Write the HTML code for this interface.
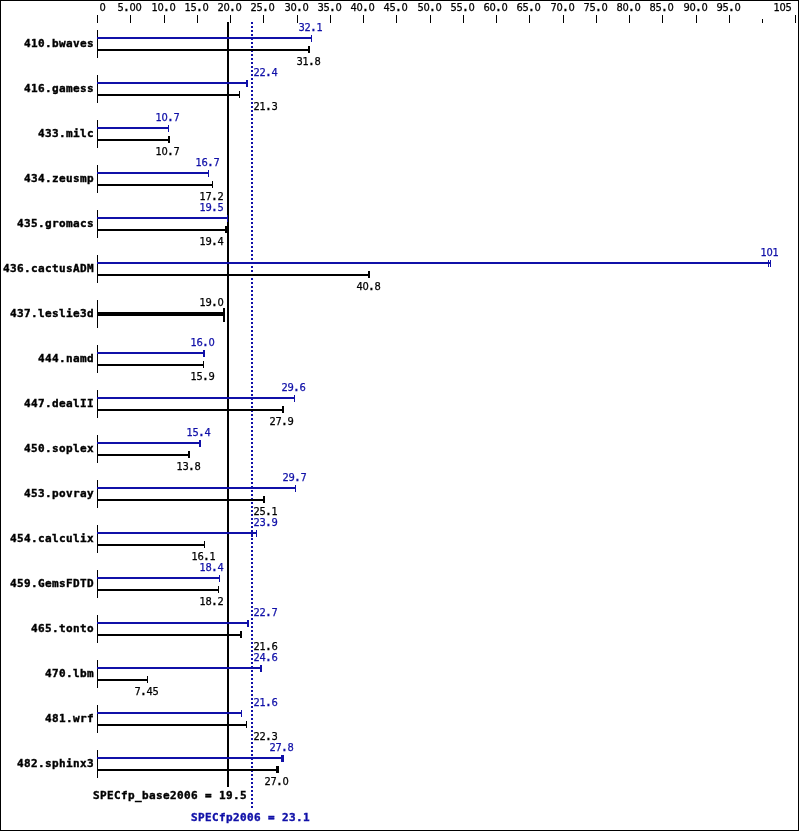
<!DOCTYPE html>
<html lang="en">
<head>
<meta charset="utf-8">
<title>SPECfp2006 results chart</title>
<style>
html,body{margin:0;padding:0;background:#fff}
#chart{position:relative;width:797px;height:829px;border:1px solid #000;background:#fff;overflow:hidden}
#plot{position:absolute;left:-1px;top:-1px;width:799px;height:831px}
#plot i{position:absolute;display:block}
#plot i.k{background:#000}
#plot i.b{background:#1010a8}
#plot i.dot{background:repeating-linear-gradient(to bottom,#1010a8 0,#1010a8 2px,transparent 2px,transparent 4px)}
#plot span{position:absolute;white-space:pre;color:#000;height:0;line-height:0}
#plot span.s{font-family:"DejaVu Sans Condensed","DejaVu Sans","Liberation Sans",sans-serif;font-stretch:condensed;font-size:11px;letter-spacing:-0.3px;margin-top:-3px;-webkit-text-stroke:0.25px currentColor}
#plot span.s u{display:inline-block;width:6px;text-align:center;text-decoration:none;letter-spacing:0;line-height:0;font-weight:bold}
#plot span.n{font-family:"DejaVu Sans Mono","Liberation Mono",monospace;font-weight:bold;font-size:11px;letter-spacing:0.378px;margin-top:-3px;-webkit-text-stroke:0.4px currentColor}
#plot span.bl{color:#1010a8}
</style>
</head>
<body>
<div id="chart"><div id="plot">
<i class="k" style="left:97px;top:15px;width:1px;height:8px"></i>
<span class="s" style="left:99.5px;top:11px">0</span>
<i class="k" style="left:130px;top:15px;width:1px;height:8px"></i>
<span class="s" style="left:117.5px;top:11px">5<u>.</u>00</span>
<i class="k" style="left:164px;top:15px;width:1px;height:8px"></i>
<span class="s" style="left:151.5px;top:11px">10<u>.</u>0</span>
<i class="k" style="left:197px;top:15px;width:1px;height:8px"></i>
<span class="s" style="left:184.5px;top:11px">15<u>.</u>0</span>
<i class="k" style="left:230px;top:15px;width:1px;height:8px"></i>
<span class="s" style="left:217.5px;top:11px">20<u>.</u>0</span>
<i class="k" style="left:263px;top:15px;width:1px;height:8px"></i>
<span class="s" style="left:250.5px;top:11px">25<u>.</u>0</span>
<i class="k" style="left:297px;top:15px;width:1px;height:8px"></i>
<span class="s" style="left:284.5px;top:11px">30<u>.</u>0</span>
<i class="k" style="left:330px;top:15px;width:1px;height:8px"></i>
<span class="s" style="left:317.5px;top:11px">35<u>.</u>0</span>
<i class="k" style="left:363px;top:15px;width:1px;height:8px"></i>
<span class="s" style="left:350.5px;top:11px">40<u>.</u>0</span>
<i class="k" style="left:396px;top:15px;width:1px;height:8px"></i>
<span class="s" style="left:383.5px;top:11px">45<u>.</u>0</span>
<i class="k" style="left:430px;top:15px;width:1px;height:8px"></i>
<span class="s" style="left:417.5px;top:11px">50<u>.</u>0</span>
<i class="k" style="left:463px;top:15px;width:1px;height:8px"></i>
<span class="s" style="left:450.5px;top:11px">55<u>.</u>0</span>
<i class="k" style="left:496px;top:15px;width:1px;height:8px"></i>
<span class="s" style="left:483.5px;top:11px">60<u>.</u>0</span>
<i class="k" style="left:529px;top:15px;width:1px;height:8px"></i>
<span class="s" style="left:516.5px;top:11px">65<u>.</u>0</span>
<i class="k" style="left:563px;top:15px;width:1px;height:8px"></i>
<span class="s" style="left:550.5px;top:11px">70<u>.</u>0</span>
<i class="k" style="left:596px;top:15px;width:1px;height:8px"></i>
<span class="s" style="left:583.5px;top:11px">75<u>.</u>0</span>
<i class="k" style="left:629px;top:15px;width:1px;height:8px"></i>
<span class="s" style="left:616.5px;top:11px">80<u>.</u>0</span>
<i class="k" style="left:662px;top:15px;width:1px;height:8px"></i>
<span class="s" style="left:649.5px;top:11px">85<u>.</u>0</span>
<i class="k" style="left:696px;top:15px;width:1px;height:8px"></i>
<span class="s" style="left:683.5px;top:11px">90<u>.</u>0</span>
<i class="k" style="left:729px;top:15px;width:1px;height:8px"></i>
<span class="s" style="left:716.5px;top:11px">95<u>.</u>0</span>
<i class="k" style="left:762px;top:19px;width:1px;height:4px"></i>
<i class="k" style="left:795px;top:15px;width:1px;height:8px"></i>
<span class="s" style="left:773.5px;top:11px">105</span>
<i class="k" style="left:227px;top:22px;width:2px;height:765px"></i>
<i class="dot" style="left:251px;top:22px;width:2px;height:786px"></i>
<i class="k" style="left:97px;top:30px;width:1px;height:28px"></i>
<span class="n" style="left:24px;top:47px">410.bwaves</span>
<i class="b" style="left:97px;top:37px;width:215px;height:2px"></i>
<i class="b" style="left:311px;top:35px;width:1px;height:7px"></i>
<span class="s bl" style="left:298.5px;top:31px">32<u>.</u>1</span>
<i class="k" style="left:97px;top:49px;width:213px;height:2px"></i>
<i class="k" style="left:308px;top:46px;width:2px;height:7px"></i>
<span class="s" style="left:296.5px;top:65px">31<u>.</u>8</span>
<i class="k" style="left:97px;top:75px;width:1px;height:28px"></i>
<span class="n" style="left:24px;top:92px">416.gamess</span>
<i class="b" style="left:97px;top:82px;width:151px;height:2px"></i>
<i class="b" style="left:246px;top:80px;width:2px;height:7px"></i>
<span class="s bl" style="left:253.5px;top:76px">22<u>.</u>4</span>
<i class="k" style="left:97px;top:94px;width:143px;height:2px"></i>
<i class="k" style="left:239px;top:91px;width:1px;height:7px"></i>
<span class="s" style="left:253.5px;top:110px">21<u>.</u>3</span>
<i class="k" style="left:97px;top:120px;width:1px;height:28px"></i>
<span class="n" style="left:38px;top:137px">433.milc</span>
<i class="b" style="left:97px;top:127px;width:72px;height:2px"></i>
<i class="b" style="left:168px;top:125px;width:1px;height:7px"></i>
<span class="s bl" style="left:155.5px;top:121px">10<u>.</u>7</span>
<i class="k" style="left:97px;top:139px;width:73px;height:2px"></i>
<i class="k" style="left:168px;top:136px;width:2px;height:7px"></i>
<span class="s" style="left:155.5px;top:155px">10<u>.</u>7</span>
<i class="k" style="left:97px;top:165px;width:1px;height:28px"></i>
<span class="n" style="left:24px;top:182px">434.zeusmp</span>
<i class="b" style="left:97px;top:172px;width:112px;height:2px"></i>
<i class="b" style="left:208px;top:170px;width:1px;height:7px"></i>
<span class="s bl" style="left:195.5px;top:166px">16<u>.</u>7</span>
<i class="k" style="left:97px;top:184px;width:116px;height:2px"></i>
<i class="k" style="left:212px;top:181px;width:1px;height:7px"></i>
<span class="s" style="left:199.5px;top:200px">17<u>.</u>2</span>
<i class="k" style="left:97px;top:210px;width:1px;height:28px"></i>
<span class="n" style="left:17px;top:227px">435.gromacs</span>
<i class="b" style="left:97px;top:217px;width:131px;height:2px"></i>
<i class="b" style="left:227px;top:215px;width:1px;height:7px"></i>
<span class="s bl" style="left:199.5px;top:211px">19<u>.</u>5</span>
<i class="k" style="left:97px;top:229px;width:130px;height:2px"></i>
<i class="k" style="left:225px;top:226px;width:2px;height:7px"></i>
<span class="s" style="left:199.5px;top:245px">19<u>.</u>4</span>
<i class="k" style="left:97px;top:255px;width:1px;height:28px"></i>
<span class="n" style="left:3px;top:272px">436.cactusADM</span>
<i class="b" style="left:97px;top:262px;width:674px;height:2px"></i>
<i class="b" style="left:770px;top:260px;width:1px;height:7px"></i>
<span class="s bl" style="left:760.5px;top:256px">101</span>
<i class="k" style="left:97px;top:274px;width:273px;height:2px"></i>
<i class="k" style="left:368px;top:271px;width:2px;height:7px"></i>
<span class="s" style="left:356.5px;top:290px">40<u>.</u>8</span>
<i class="b" style="left:768px;top:260px;width:1px;height:7px"></i>
<i class="k" style="left:97px;top:300px;width:1px;height:28px"></i>
<span class="n" style="left:10px;top:317px">437.leslie3d</span>
<i class="k" style="left:97px;top:312px;width:128px;height:4px"></i>
<i class="k" style="left:223px;top:308px;width:2px;height:14px"></i>
<span class="s" style="left:199.5px;top:306px">19<u>.</u>0</span>
<i class="k" style="left:97px;top:345px;width:1px;height:28px"></i>
<span class="n" style="left:38px;top:362px">444.namd</span>
<i class="b" style="left:97px;top:352px;width:108px;height:2px"></i>
<i class="b" style="left:203px;top:350px;width:2px;height:7px"></i>
<span class="s bl" style="left:190.5px;top:346px">16<u>.</u>0</span>
<i class="k" style="left:97px;top:364px;width:107px;height:2px"></i>
<i class="k" style="left:203px;top:361px;width:1px;height:7px"></i>
<span class="s" style="left:190.5px;top:380px">15<u>.</u>9</span>
<i class="k" style="left:97px;top:390px;width:1px;height:28px"></i>
<span class="n" style="left:24px;top:407px">447.dealII</span>
<i class="b" style="left:97px;top:397px;width:198px;height:2px"></i>
<i class="b" style="left:294px;top:395px;width:1px;height:7px"></i>
<span class="s bl" style="left:281.5px;top:391px">29<u>.</u>6</span>
<i class="k" style="left:97px;top:409px;width:187px;height:2px"></i>
<i class="k" style="left:282px;top:406px;width:2px;height:7px"></i>
<span class="s" style="left:269.5px;top:425px">27<u>.</u>9</span>
<i class="k" style="left:97px;top:435px;width:1px;height:28px"></i>
<span class="n" style="left:24px;top:452px">450.soplex</span>
<i class="b" style="left:97px;top:442px;width:104px;height:2px"></i>
<i class="b" style="left:199px;top:440px;width:2px;height:7px"></i>
<span class="s bl" style="left:186.5px;top:436px">15<u>.</u>4</span>
<i class="k" style="left:97px;top:454px;width:93px;height:2px"></i>
<i class="k" style="left:188px;top:451px;width:2px;height:7px"></i>
<span class="s" style="left:176.5px;top:470px">13<u>.</u>8</span>
<i class="k" style="left:97px;top:480px;width:1px;height:28px"></i>
<span class="n" style="left:24px;top:497px">453.povray</span>
<i class="b" style="left:97px;top:487px;width:199px;height:2px"></i>
<i class="b" style="left:295px;top:485px;width:1px;height:7px"></i>
<span class="s bl" style="left:282.5px;top:481px">29<u>.</u>7</span>
<i class="k" style="left:97px;top:499px;width:168px;height:2px"></i>
<i class="k" style="left:263px;top:496px;width:2px;height:7px"></i>
<span class="s" style="left:253.5px;top:515px">25<u>.</u>1</span>
<i class="k" style="left:97px;top:525px;width:1px;height:28px"></i>
<span class="n" style="left:10px;top:542px">454.calculix</span>
<i class="b" style="left:97px;top:532px;width:160px;height:2px"></i>
<i class="b" style="left:256px;top:530px;width:1px;height:7px"></i>
<span class="s bl" style="left:253.5px;top:526px">23<u>.</u>9</span>
<i class="k" style="left:97px;top:544px;width:108px;height:2px"></i>
<i class="k" style="left:204px;top:541px;width:1px;height:7px"></i>
<span class="s" style="left:191.5px;top:560px">16<u>.</u>1</span>
<i class="b" style="left:251px;top:530px;width:2px;height:7px"></i>
<i class="k" style="left:97px;top:570px;width:1px;height:28px"></i>
<span class="n" style="left:10px;top:587px">459.GemsFDTD</span>
<i class="b" style="left:97px;top:577px;width:123px;height:2px"></i>
<i class="b" style="left:219px;top:575px;width:1px;height:7px"></i>
<span class="s bl" style="left:199.5px;top:571px">18<u>.</u>4</span>
<i class="k" style="left:97px;top:589px;width:122px;height:2px"></i>
<i class="k" style="left:218px;top:586px;width:1px;height:7px"></i>
<span class="s" style="left:199.5px;top:605px">18<u>.</u>2</span>
<i class="k" style="left:97px;top:615px;width:1px;height:28px"></i>
<span class="n" style="left:31px;top:632px">465.tonto</span>
<i class="b" style="left:97px;top:622px;width:152px;height:2px"></i>
<i class="b" style="left:247px;top:620px;width:2px;height:7px"></i>
<span class="s bl" style="left:253.5px;top:616px">22<u>.</u>7</span>
<i class="k" style="left:97px;top:634px;width:145px;height:2px"></i>
<i class="k" style="left:240px;top:631px;width:2px;height:7px"></i>
<span class="s" style="left:253.5px;top:650px">21<u>.</u>6</span>
<i class="k" style="left:97px;top:660px;width:1px;height:28px"></i>
<span class="n" style="left:45px;top:677px">470.lbm</span>
<i class="b" style="left:97px;top:667px;width:165px;height:2px"></i>
<i class="b" style="left:260px;top:665px;width:2px;height:7px"></i>
<span class="s bl" style="left:253.5px;top:661px">24<u>.</u>6</span>
<i class="k" style="left:97px;top:679px;width:51px;height:2px"></i>
<i class="k" style="left:147px;top:676px;width:1px;height:7px"></i>
<span class="s" style="left:134.5px;top:695px">7<u>.</u>45</span>
<i class="k" style="left:97px;top:705px;width:1px;height:28px"></i>
<span class="n" style="left:45px;top:722px">481.wrf</span>
<i class="b" style="left:97px;top:712px;width:145px;height:2px"></i>
<i class="b" style="left:241px;top:710px;width:1px;height:7px"></i>
<span class="s bl" style="left:253.5px;top:706px">21<u>.</u>6</span>
<i class="k" style="left:97px;top:724px;width:150px;height:2px"></i>
<i class="k" style="left:246px;top:721px;width:1px;height:7px"></i>
<span class="s" style="left:253.5px;top:740px">22<u>.</u>3</span>
<i class="k" style="left:97px;top:750px;width:1px;height:28px"></i>
<span class="n" style="left:17px;top:767px">482.sphinx3</span>
<i class="b" style="left:97px;top:757px;width:187px;height:2px"></i>
<i class="b" style="left:281px;top:755px;width:3px;height:7px"></i>
<span class="s bl" style="left:269.5px;top:751px">27<u>.</u>8</span>
<i class="k" style="left:97px;top:769px;width:182px;height:2px"></i>
<i class="k" style="left:276px;top:766px;width:3px;height:7px"></i>
<span class="s" style="left:264.5px;top:785px">27<u>.</u>0</span>
<span class="n" style="left:93px;top:799px">SPECfp_base2006 = 19.5</span>
<span class="n bl" style="left:191px;top:821px">SPECfp2006 = 23.1</span>
</div></div>
</body>
</html>
